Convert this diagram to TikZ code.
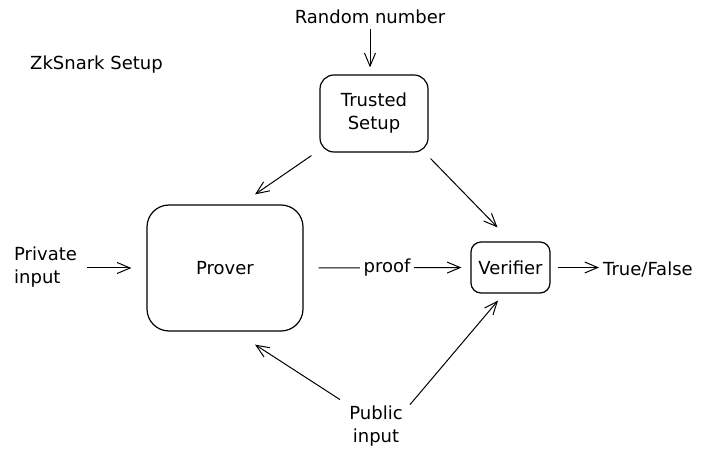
\documentclass[tikz,border=0pt]{standalone}
\usepackage{fontspec}
\setmainfont{DejaVu Sans}
\usetikzlibrary{arrows.meta}

\begin{document}
\begin{tikzpicture}[x=1pt, y=1pt, font=\fontsize{18}{23}\selectfont,
	box/.style={draw, line width=1.2pt, align=center},
	arr/.style={line width=1pt, -{Straight Barb[length=13pt, width=11pt]}},
	lbl/.style={align=left, inner sep=2pt}]
			\useasboundingbox (0,0) rectangle (720,463);
			\node[lbl, anchor=west] (title) at (28,398) {ZkSnark Setup};
			\node[lbl] (random) at (370,446) {Random number};
			\node[box, rounded corners=14pt, minimum width=108pt, minimum height=77pt] (trusted) at (374,349.5) {Trusted\\Setup};
			\node[box, rounded corners=22pt, minimum width=156pt, minimum height=126pt] (prover) at (225,195) {Prover};
			\node[box, rounded corners=10pt, minimum width=79pt, minimum height=51pt] (verifier) at (510.5,195.5) {Verifier};
			\node[lbl, anchor=west] (private) at (12,196) {Private\\input};
			\node[lbl, anchor=west] (result) at (601,194) {True/False};
			\node[lbl, align=center] (public) at (376,37) {Public\\input};
			\draw[arr, shorten <=3pt, shorten >=7pt] (random.south -| 370,0) -- (trusted.north -| 370,0);
			\draw[arr] ([shift={(-8,-3)}]trusted.south west) -- ([shift={(30,10)}]prover.north);
			\draw[arr] ([shift={(2,-6)}]trusted.south east) -- ([shift={(-13,14)}]verifier.north);
			\draw[arr, shorten <=8pt, shorten >=15pt] (private.east |- prover.west) -- (prover.west);
			\draw[arr, shorten <=15pt, shorten >=9pt] (prover.east) -- node[fill=white, inner sep=4pt] (proof) {proof} (verifier.west);
			\draw[arr, shorten <=7pt, shorten >=2pt] (verifier.east) -- (result.west |- verifier.east);
			\draw[arr] ([shift={(-36,4)}]public.north) -- ([shift={(30,-13)}]prover.south);
			\draw[arr] ([shift={(34,-1)}]public.north) -- ([shift={(-12.5,-7)}]verifier.south);
			\end{tikzpicture}
\end{document}
